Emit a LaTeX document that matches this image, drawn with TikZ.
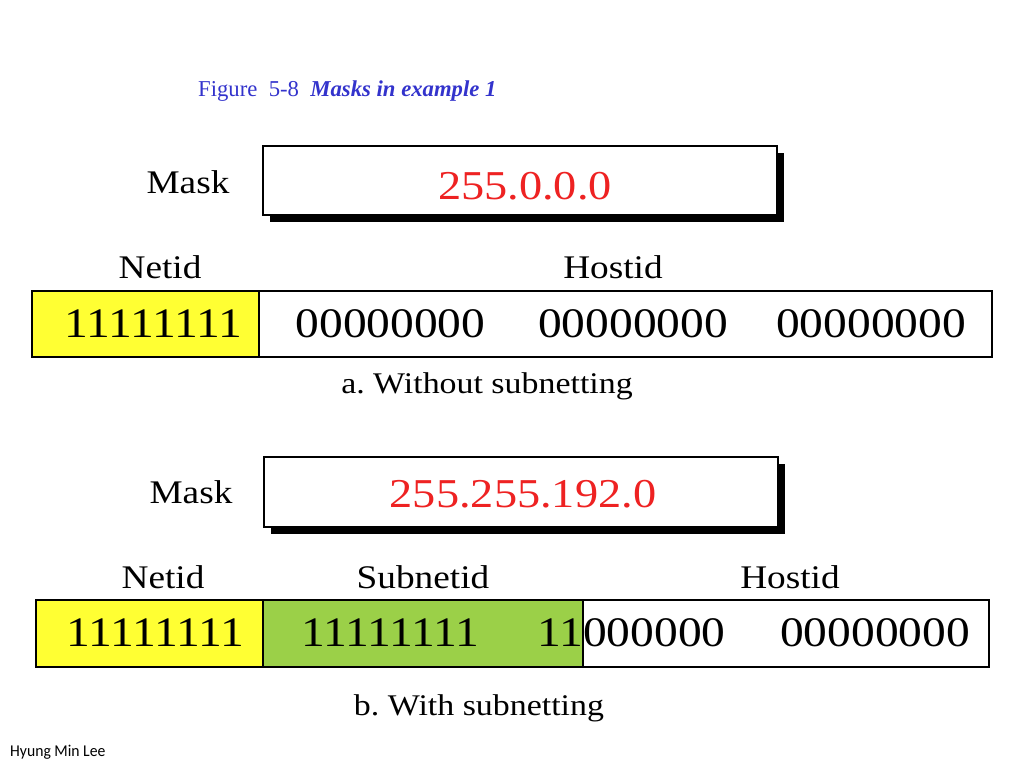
\documentclass[tikz,border=0pt]{standalone}
\usepackage{fontspec}
\setmainfont{Liberation Serif}
\newfontfamily\tf[FakeStretch=1.13]{Liberation Serif}
\newfontfamily\smallsans[FakeStretch=0.95]{Carlito}
\definecolor{titleblue}{RGB}{51,51,204}
\definecolor{maskred}{RGB}{238,34,34}
\definecolor{netyellow}{RGB}{255,255,51}
\definecolor{subgreen}{RGB}{155,208,72}
\tikzset{
  field/.style={draw=black, line width=1.6pt, inner sep=0pt},
  lbl/.style={anchor=base, inner sep=0pt, font=\tf\fontsize{33}{36}\selectfont},
  bits/.style={anchor=base, inner sep=0pt, font=\tf\fontsize{42}{46}\selectfont},
  maskval/.style={anchor=base, inner sep=0pt, text=maskred, font=\tf\fontsize{41}{44}\selectfont},
  masklbl/.style={anchor=base, inner sep=0pt, font=\tf\fontsize{33}{36}\selectfont},
  caption/.style={anchor=base, inner sep=0pt, font=\tf\fontsize{30}{34}\selectfont},
}
\begin{document}
\begin{tikzpicture}[x=1pt,y=-1pt]
\useasboundingbox (0,0) rectangle (1024,768);
% title
\node[anchor=base west, inner sep=0pt, text=titleblue, font=\fontsize{22.7}{26}\selectfont] (title) at (198,96) {Figure\ \ 5-8\ \ \textbf{\textit{Masks in example 1}}};

% ---- part a
\fill[black] (270,153) rectangle (784,222);
\draw[field, fill=white] (263,146) rectangle (777,215);
\node[masklbl] (mask1) at (188,193) {Mask};
\node[maskval] (val1) at (525,199) {255.0.0.0};

\node[lbl] (netid1) at (160,278) {Netid};
\node[lbl] (hostid1) at (613,278) {Hostid};

\draw[field, fill=netyellow] (32,291) rectangle (259,357);
\draw[field, fill=white] (259,291) rectangle (992,357);
\node[bits] (a1) at (153,337) {11111111};
\node[bits] (a2) at (390.5,337) {00000000};
\node[bits] (a3) at (633,337) {00000000};
\node[bits] (a4) at (871,337) {00000000};
\node[caption] (capa) at (487,393) {a.\ Without subnetting};

% ---- part b
\fill[black] (271,464) rectangle (785,534);
\draw[field, fill=white] (264,457) rectangle (778,527);
\node[masklbl] (mask2) at (191,503) {Mask};
\node[maskval] (val2) at (523,507) {255.255.192.0};

\node[lbl] (netid2) at (163,588) {Netid};
\node[lbl] (subnetid2) at (423,588) {Subnetid};
\node[lbl] (hostid2) at (790,588) {Hostid};

\draw[field, fill=white] (583,600) rectangle (989,667);
\draw[field, fill=netyellow] (36,600) rectangle (263,667);
\draw[field, fill=subgreen] (263,600) rectangle (583,667);
\node[bits] (b1) at (155,646) {11111111};
\node[bits] (b2) at (390,646) {11111111};
\node[bits, anchor=base east] (b3) at (583,646) {11};
\node[bits, anchor=base west] (b4) at (583,646) {000000};
\node[bits] (b5) at (875,646) {00000000};
\node[caption] (capb) at (479,715) {b.\ With subnetting};

\node[anchor=base west, inner sep=0pt, font=\smallsans\fontsize{16.5}{18}\selectfont] (author) at (10,756) {Hyung Min Lee};
\end{tikzpicture}
\end{document}
